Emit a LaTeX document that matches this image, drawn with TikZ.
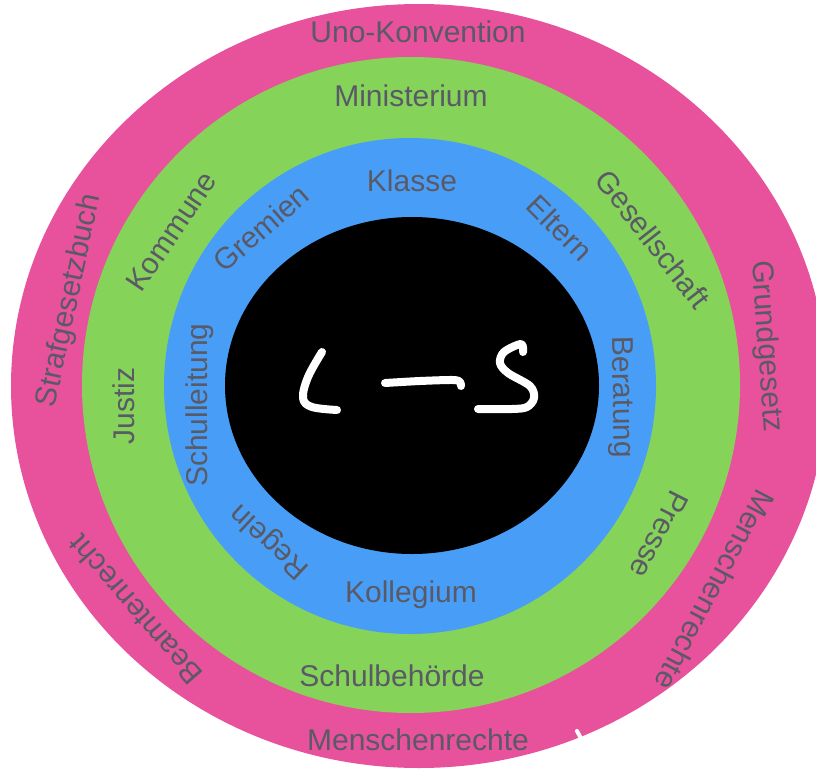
\documentclass[tikz,border=0pt]{standalone}
\usepackage{fontspec}
\setmainfont{Liberation Sans}
\definecolor{ringpink}{HTML}{E8529C}
\definecolor{ringgreen}{HTML}{86D35A}
\definecolor{ringblue}{HTML}{489EF6}
\definecolor{labelgray}{HTML}{5A5A66}
\begin{document}
\begin{tikzpicture}[x=1pt,y=-1pt,
  lbl/.style={text=labelgray, font=\fontsize{30}{36}\selectfont, inner sep=0pt, text height=21.5pt, text depth=0pt},
  chalk/.style={white, line width=8pt, line cap=round, line join=round}]
\useasboundingbox (0,0) rectangle (816,771);
\clip (0,0) rectangle (816,771);
\fill[white] (0,0) rectangle (816,771);
% rings
\fill[ringpink] (419,386) ellipse [x radius=408, y radius=382];
\fill[ringgreen] (411,385) ellipse [x radius=329, y radius=328];
\fill[ringblue] (410,386) ellipse [x radius=246, y radius=248];
\fill[black] (412,385.5) ellipse [x radius=187, y radius=168.5];
% small white tick on outer ring
\draw[white, line width=4pt, line cap=round] (577,731) -- (583,742);
% outer ring labels
\node[lbl] (uno) at (418,32) {Uno-Konvention};
\node[lbl, rotate=78] (strafg) at (67,300) {Strafgesetzbuch};
\node[lbl, rotate=-86] (grundg) at (769,346) {Grundgesetz};
\node[lbl, rotate=-118] (menschr) at (715,590) {Menschenrechte};
\node[lbl, rotate=131] (beamt) at (135,610) {Beamtenrecht};
\node[lbl] (menschb) at (418,740) {Menschenrechte};
% green ring labels
\node[lbl] (minist) at (411,96) {Ministerium};
\node[lbl, rotate=56] (kommune) at (171,231) {Kommune};
\node[lbl, rotate=-52] (gesell) at (653,239) {Gesellschaft};
\node[lbl, rotate=90] (justiz) at (124,406) {Justiz};
\node[lbl, rotate=-117] (presse) at (660,535) {Presse};
\node[lbl] (schulb) at (392,676) {Schulbehörde};
% blue ring labels
\node[lbl] (klasse) at (412,181) {Klasse};
\node[lbl, rotate=41] (gremien) at (261,228) {Gremien};
\node[lbl, rotate=-45] (eltern) at (560,228) {Eltern};
\node[lbl, rotate=90] (schull) at (197,405) {Schulleitung};
\node[lbl, rotate=-89] (berat) at (624,397) {Beratung};
\node[lbl, rotate=137] (regeln) at (268,543) {Regeln};
\node[lbl] (kolleg) at (411,592) {Kollegium};
% hand-drawn L-S
\draw[chalk] plot[smooth, tension=0.6] coordinates {(322,352) (308,377) (303,398) (312,407) (337,410)};
\draw[chalk] plot[smooth, tension=0.5] coordinates {(385,383) (420,381) (453,380) (460,382) (461,386)};
\draw[chalk] plot[smooth, tension=0.55] coordinates {(523,352) (521,344) (504,352) (500,363) (508,373) (530,386) (534,398) (527,407) (512,409) (478,409)};
\end{tikzpicture}
\end{document}
